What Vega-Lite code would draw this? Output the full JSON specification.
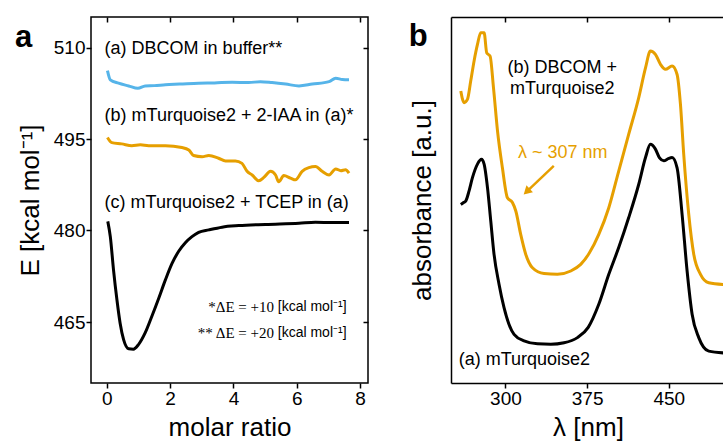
{
  "$schema": "https://vega.github.io/schema/vega-lite/v6.json",
  "padding": {"left": 14, "top": 15, "right": 0, "bottom": 0},
  "bounds": "flush",
  "spacing": 83,
  "resolve": {"scale": {"color": "independent"}},
  "config": {
    "font": "Liberation Sans",
    "view": {"stroke": "#000", "strokeWidth": 1.5},
    "axis": {"labelFontSize": 19, "titleFontSize": 26, "titleFontWeight": "normal", "labelColor": "#000", "titleColor": "#000", "tickColor": "#000", "domainColor": "#000", "grid": false, "tickSize": 5, "tickWidth": 1.5, "domainWidth": 1.5, "labelPadding": 1}
  },
  "datasets": {
    "curvesA": [
      {"s": "a", "x": 0.02, "E": 506.2}, {"s": "a", "x": 0.11, "E": 504.7}, {"s": "a", "x": 0.37, "E": 504.15}, {"s": "a", "x": 0.69, "E": 503.7}, {"s": "a", "x": 0.98, "E": 503.3}, {"s": "a", "x": 1.21, "E": 503.7}, {"s": "a", "x": 1.5, "E": 503.75}, {"s": "a", "x": 1.85, "E": 503.9}, {"s": "a", "x": 2.3, "E": 504.0}, {"s": "a", "x": 2.9, "E": 504.15}, {"s": "a", "x": 3.4, "E": 504.2}, {"s": "a", "x": 3.96, "E": 504.3}, {"s": "a", "x": 4.48, "E": 504.25}, {"s": "a", "x": 4.85, "E": 504.4}, {"s": "a", "x": 5.22, "E": 504.25}, {"s": "a", "x": 5.65, "E": 504.0}, {"s": "a", "x": 6.07, "E": 503.7}, {"s": "a", "x": 6.49, "E": 504.0}, {"s": "a", "x": 7.02, "E": 504.4}, {"s": "a", "x": 7.23, "E": 504.97}, {"s": "a", "x": 7.44, "E": 504.75}, {"s": "a", "x": 7.65, "E": 504.7},
      {"s": "b", "x": 0.02, "E": 495.25}, {"s": "b", "x": 0.16, "E": 494.4}, {"s": "b", "x": 0.47, "E": 494.2}, {"s": "b", "x": 0.79, "E": 493.9}, {"s": "b", "x": 1.06, "E": 494.05}, {"s": "b", "x": 1.32, "E": 493.9}, {"s": "b", "x": 1.85, "E": 493.9}, {"s": "b", "x": 2.37, "E": 493.6}, {"s": "b", "x": 2.59, "E": 493.2}, {"s": "b", "x": 2.74, "E": 492.3}, {"s": "b", "x": 3.01, "E": 492.1}, {"s": "b", "x": 3.22, "E": 492.3}, {"s": "b", "x": 3.53, "E": 491.85}, {"s": "b", "x": 3.75, "E": 491.4}, {"s": "b", "x": 4.06, "E": 491.4}, {"s": "b", "x": 4.27, "E": 491.0}, {"s": "b", "x": 4.43, "E": 489.7}, {"s": "b", "x": 4.59, "E": 489.1}, {"s": "b", "x": 4.8, "E": 488.15}, {"s": "b", "x": 4.96, "E": 488.7}, {"s": "b", "x": 5.17, "E": 489.7}, {"s": "b", "x": 5.33, "E": 489.1}, {"s": "b", "x": 5.43, "E": 488.0}, {"s": "b", "x": 5.59, "E": 489.0}, {"s": "b", "x": 5.8, "E": 488.6}, {"s": "b", "x": 5.96, "E": 488.3}, {"s": "b", "x": 6.17, "E": 489.7}, {"s": "b", "x": 6.38, "E": 490.3}, {"s": "b", "x": 6.59, "E": 490.5}, {"s": "b", "x": 6.8, "E": 489.7}, {"s": "b", "x": 7.02, "E": 489.1}, {"s": "b", "x": 7.23, "E": 490.1}, {"s": "b", "x": 7.39, "E": 489.8}, {"s": "b", "x": 7.54, "E": 489.95}, {"s": "b", "x": 7.65, "E": 489.4},
      {"s": "c", "x": 0.03, "E": 481.5}, {"s": "c", "x": 0.11, "E": 479.0}, {"s": "c", "x": 0.21, "E": 473.6}, {"s": "c", "x": 0.32, "E": 468.6}, {"s": "c", "x": 0.42, "E": 464.8}, {"s": "c", "x": 0.53, "E": 462.1}, {"s": "c", "x": 0.69, "E": 460.6}, {"s": "c", "x": 0.84, "E": 460.55}, {"s": "c", "x": 1.0, "E": 461.3}, {"s": "c", "x": 1.21, "E": 463.2}, {"s": "c", "x": 1.42, "E": 465.9}, {"s": "c", "x": 1.64, "E": 468.9}, {"s": "c", "x": 1.85, "E": 471.9}, {"s": "c", "x": 2.06, "E": 474.6}, {"s": "c", "x": 2.27, "E": 476.6}, {"s": "c", "x": 2.48, "E": 478.0}, {"s": "c", "x": 2.69, "E": 479.0}, {"s": "c", "x": 2.9, "E": 479.7}, {"s": "c", "x": 3.22, "E": 480.1}, {"s": "c", "x": 3.64, "E": 480.55}, {"s": "c", "x": 4.17, "E": 480.8}, {"s": "c", "x": 5.01, "E": 481.0}, {"s": "c", "x": 6.07, "E": 481.2}, {"s": "c", "x": 6.59, "E": 481.35}, {"s": "c", "x": 7.12, "E": 481.3}, {"s": "c", "x": 7.65, "E": 481.3}
    ],
    "curvesB": [
      {"s": "DB", "wl": 259.0, "A": 0.798}, {"s": "DB", "wl": 262.0, "A": 0.766}, {"s": "DB", "wl": 265.1, "A": 0.775}, {"s": "DB", "wl": 268.1, "A": 0.825}, {"s": "DB", "wl": 271.2, "A": 0.88}, {"s": "DB", "wl": 274.3, "A": 0.925}, {"s": "DB", "wl": 277.3, "A": 0.957}, {"s": "DB", "wl": 280.4, "A": 0.957}, {"s": "DB", "wl": 282.8, "A": 0.902}, {"s": "DB", "wl": 285.9, "A": 0.893}, {"s": "DB", "wl": 289.0, "A": 0.807}, {"s": "DB", "wl": 292.7, "A": 0.689}, {"s": "DB", "wl": 297.2, "A": 0.588}, {"s": "DB", "wl": 301.8, "A": 0.506}, {"s": "DB", "wl": 306.4, "A": 0.493}, {"s": "DB", "wl": 309.5, "A": 0.47}, {"s": "DB", "wl": 314.0, "A": 0.406}, {"s": "DB", "wl": 318.6, "A": 0.352}, {"s": "DB", "wl": 324.8, "A": 0.315}, {"s": "DB", "wl": 335.4, "A": 0.299}, {"s": "DB", "wl": 347.7, "A": 0.297}, {"s": "DB", "wl": 360.0, "A": 0.306}, {"s": "DB", "wl": 369.1, "A": 0.324}, {"s": "DB", "wl": 377.0, "A": 0.355}, {"s": "DB", "wl": 385.7, "A": 0.406}, {"s": "DB", "wl": 394.9, "A": 0.479}, {"s": "DB", "wl": 404.0, "A": 0.579}, {"s": "DB", "wl": 413.2, "A": 0.68}, {"s": "DB", "wl": 422.4, "A": 0.78}, {"s": "DB", "wl": 428.6, "A": 0.861}, {"s": "DB", "wl": 433.1, "A": 0.907}, {"s": "DB", "wl": 437.7, "A": 0.898}, {"s": "DB", "wl": 442.3, "A": 0.871}, {"s": "DB", "wl": 446.9, "A": 0.857}, {"s": "DB", "wl": 453.0, "A": 0.866}, {"s": "DB", "wl": 457.6, "A": 0.843}, {"s": "DB", "wl": 460.7, "A": 0.761}, {"s": "DB", "wl": 463.7, "A": 0.625}, {"s": "DB", "wl": 468.3, "A": 0.461}, {"s": "DB", "wl": 472.9, "A": 0.352}, {"s": "DB", "wl": 479.1, "A": 0.297}, {"s": "DB", "wl": 486.7, "A": 0.274}, {"s": "DB", "wl": 501.5, "A": 0.269},
      {"s": "mT", "wl": 259.0, "A": 0.488}, {"s": "mT", "wl": 261.0, "A": 0.492}, {"s": "mT", "wl": 263.5, "A": 0.497}, {"s": "mT", "wl": 266.6, "A": 0.525}, {"s": "mT", "wl": 269.7, "A": 0.561}, {"s": "mT", "wl": 274.3, "A": 0.598}, {"s": "mT", "wl": 278.0, "A": 0.611}, {"s": "mT", "wl": 280.4, "A": 0.598}, {"s": "mT", "wl": 283.5, "A": 0.534}, {"s": "mT", "wl": 286.5, "A": 0.443}, {"s": "mT", "wl": 289.5, "A": 0.352}, {"s": "mT", "wl": 294.1, "A": 0.27}, {"s": "mT", "wl": 298.7, "A": 0.206}, {"s": "mT", "wl": 303.3, "A": 0.16}, {"s": "mT", "wl": 307.9, "A": 0.133}, {"s": "mT", "wl": 317.1, "A": 0.115}, {"s": "mT", "wl": 329.4, "A": 0.107}, {"s": "mT", "wl": 341.6, "A": 0.106}, {"s": "mT", "wl": 353.8, "A": 0.11}, {"s": "mT", "wl": 366.1, "A": 0.124}, {"s": "mT", "wl": 376.0, "A": 0.152}, {"s": "mT", "wl": 385.7, "A": 0.215}, {"s": "mT", "wl": 394.9, "A": 0.297}, {"s": "mT", "wl": 404.0, "A": 0.37}, {"s": "mT", "wl": 413.2, "A": 0.452}, {"s": "mT", "wl": 422.4, "A": 0.543}, {"s": "mT", "wl": 428.6, "A": 0.616}, {"s": "mT", "wl": 433.1, "A": 0.652}, {"s": "mT", "wl": 437.7, "A": 0.639}, {"s": "mT", "wl": 441.5, "A": 0.615}, {"s": "mT", "wl": 445.4, "A": 0.607}, {"s": "mT", "wl": 449.5, "A": 0.613}, {"s": "mT", "wl": 453.0, "A": 0.616}, {"s": "mT", "wl": 457.6, "A": 0.588}, {"s": "mT", "wl": 462.2, "A": 0.461}, {"s": "mT", "wl": 466.8, "A": 0.306}, {"s": "mT", "wl": 471.4, "A": 0.188}, {"s": "mT", "wl": 477.5, "A": 0.124}, {"s": "mT", "wl": 486.7, "A": 0.087}, {"s": "mT", "wl": 501.5, "A": 0.082}
    ]
  },
  "hconcat": [
    {
      "width": 277,
      "height": 366,
      "resolve": {"axis": {"x": "independent", "y": "independent"}},
      "layer": [
        {
          "data": {"name": "curvesA"},
          "mark": {"type": "line", "strokeWidth": 3, "interpolate": "monotone"},
          "encoding": {
            "x": {"field": "x", "type": "quantitative", "scale": {"domain": [-0.5, 8.25], "nice": false, "zero": false}, "axis": {"values": [0, 2, 4, 6, 8], "title": "molar ratio", "domain": false, "titlePadding": 6}},
            "y": {"field": "E", "type": "quantitative", "scale": {"domain": [455, 515], "nice": false, "zero": false}, "axis": {"values": [465, 480, 495, 510], "title": "E [kcal mol⁻¹]", "domain": false, "titlePadding": 10}},
            "color": {"field": "s", "type": "nominal", "scale": {"domain": ["a", "b", "c"], "range": ["#56B4E9", "#E69F00", "#000000"]}, "legend": null},
            "order": {"field": "x", "type": "quantitative"}
          }
        },
        {
          "data": {"values": [
            {"x": -0.07, "E": 509.8, "t": "(a) DBCOM in buffer**"},
            {"x": -0.07, "E": 498.7, "t": "(b) mTurquoise2 + 2-IAA in (a)*"},
            {"x": -0.07, "E": 484.5, "t": "(c) mTurquoise2 + TCEP in (a)"}
          ]},
          "mark": {"type": "text", "align": "left", "baseline": "middle", "fontSize": 18, "color": "#000"},
          "encoding": {
            "x": {"field": "x", "type": "quantitative", "axis": {"orient": "top", "values": [0, 2, 4, 6, 8], "labels": false, "title": null, "domain": false, "tickSize": -5}},
            "y": {"field": "E", "type": "quantitative", "axis": {"orient": "right", "values": [465, 480, 495, 510], "labels": false, "title": null, "domain": false, "tickSize": -5}},
            "text": {"field": "t"}
          }
        },
        {
          "data": {"values": [
            {"x": 5.28, "E": 467.5, "t": "*ΔE = +10"},
            {"x": 5.28, "E": 463.2, "t": "** ΔE = +20"}
          ]},
          "mark": {"type": "text", "align": "right", "baseline": "middle", "fontSize": 15, "font": "Liberation Serif", "color": "#000"},
          "encoding": {
            "x": {"field": "x", "type": "quantitative", "axis": null},
            "y": {"field": "E", "type": "quantitative", "axis": null},
            "text": {"field": "t"}
          }
        },
        {
          "data": {"values": [
            {"x": 5.4, "E": 467.5, "t": "[kcal mol⁻¹]"},
            {"x": 5.4, "E": 463.2, "t": "[kcal mol⁻¹]"}
          ]},
          "mark": {"type": "text", "align": "left", "baseline": "middle", "fontSize": 14, "color": "#000"},
          "encoding": {
            "x": {"field": "x", "type": "quantitative", "axis": null},
            "y": {"field": "E", "type": "quantitative", "axis": null},
            "text": {"field": "t"}
          }
        },
        {
          "data": {"values": [{"x": -2.9, "E": 510.16, "t": "a"}]},
          "mark": {"type": "text", "align": "left", "baseline": "alphabetic", "fontSize": 31, "fontWeight": "bold", "color": "#000"},
          "encoding": {
            "x": {"field": "x", "type": "quantitative", "axis": null},
            "y": {"field": "E", "type": "quantitative", "axis": null},
            "text": {"field": "t"}
          }
        }
      ]
    },
    {
      "width": 274,
      "height": 366,
      "view": {"stroke": null},
      "resolve": {"axis": {"x": "independent", "y": "independent"}},
      "layer": [
        {
          "data": {"name": "curvesB"},
          "mark": {"type": "line", "strokeWidth": 3, "interpolate": "monotone"},
          "encoding": {
            "x": {"field": "wl", "type": "quantitative", "scale": {"domain": [250, 501.6], "nice": false, "zero": false}, "axis": {"values": [300, 375, 450], "title": "λ [nm]", "domain": true, "titlePadding": 6}},
            "y": {"field": "A", "type": "quantitative", "scale": {"domain": [0, 1], "nice": false, "zero": false}, "axis": {"labels": false, "ticks": false, "title": "absorbance [a.u.]", "domain": true, "titlePadding": 16}},
            "color": {"field": "s", "type": "nominal", "scale": {"domain": ["mT", "DB"], "range": ["#000000", "#E69F00"]}, "legend": null},
            "order": {"field": "wl", "type": "quantitative"}
          }
        },
        {
          "data": {"values": [
            {"wl": 352.2, "A": 0.861, "t": "(b) DBCOM +"},
            {"wl": 352.2, "A": 0.802, "t": "mTurquoise2"}
          ]},
          "mark": {"type": "text", "align": "center", "baseline": "middle", "fontSize": 18, "color": "#000"},
          "encoding": {
            "x": {"field": "wl", "type": "quantitative", "axis": {"orient": "top", "values": [300, 375, 450], "labels": false, "title": null, "domain": true, "tickSize": -5}},
            "y": {"field": "A", "type": "quantitative", "axis": null},
            "text": {"field": "t"}
          }
        },
        {
          "data": {"values": [{"wl": 257.1, "A": 0.062, "t": "(a) mTurquoise2"}]},
          "mark": {"type": "text", "align": "left", "baseline": "middle", "fontSize": 18, "color": "#000"},
          "encoding": {
            "x": {"field": "wl", "type": "quantitative", "axis": null},
            "y": {"field": "A", "type": "quantitative", "axis": null},
            "text": {"field": "t"}
          }
        },
        {
          "data": {"values": [{"wl": 352.6, "A": 0.629, "t": "λ ~ 307 nm"}]},
          "mark": {"type": "text", "align": "center", "baseline": "middle", "fontSize": 18, "color": "#E69F00"},
          "encoding": {
            "x": {"field": "wl", "type": "quantitative", "axis": null},
            "y": {"field": "A", "type": "quantitative", "axis": null},
            "text": {"field": "t"}
          }
        },
        {
          "data": {"values": [{"wl": 344.4, "A": 0.593, "wl2": 319.5, "A2": 0.523}]},
          "mark": {"type": "rule", "strokeWidth": 2.5, "color": "#E69F00"},
          "encoding": {
            "x": {"field": "wl", "type": "quantitative", "axis": null},
            "y": {"field": "A", "type": "quantitative", "axis": null},
            "x2": {"field": "wl2"},
            "y2": {"field": "A2"}
          }
        },
        {
          "data": {"values": [{"wl": 319.5, "A": 0.523}]},
          "mark": {"type": "point", "shape": "triangle-up", "angle": 227, "size": 90, "filled": true, "opacity": 1, "color": "#E69F00"},
          "encoding": {
            "x": {"field": "wl", "type": "quantitative", "axis": null},
            "y": {"field": "A", "type": "quantitative", "axis": null}
          }
        },
        {
          "data": {"values": [{"wl": 211.2, "A": 0.921, "t": "b"}]},
          "mark": {"type": "text", "align": "left", "baseline": "alphabetic", "fontSize": 31, "fontWeight": "bold", "color": "#000"},
          "encoding": {
            "x": {"field": "wl", "type": "quantitative", "axis": null},
            "y": {"field": "A", "type": "quantitative", "axis": null},
            "text": {"field": "t"}
          }
        }
      ]
    }
  ]
}
